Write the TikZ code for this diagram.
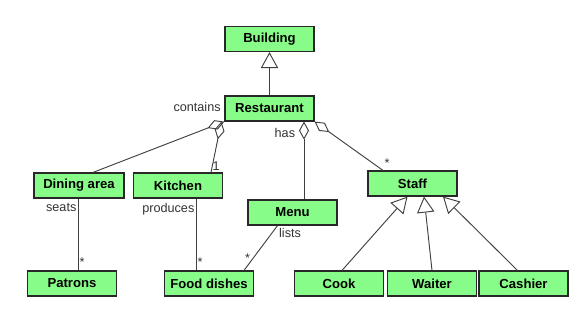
\documentclass[tikz,border=0pt]{standalone}
\usepackage{fontspec}
\setmainfont{Liberation Sans}
\definecolor{classgreen}{RGB}{136, 252, 136}
\definecolor{edgegray}{RGB}{40, 40, 40}
\usetikzlibrary{arrows.meta,calc,positioning}

\begin{document}
\begin{tikzpicture}[x=0.03cm, y=-0.03cm,
        every node/.style={font=\fontsize{10.8}{12}\selectfont},
        class/.style={draw=edgegray, fill=classgreen, line width=1pt, minimum width=2.67cm, minimum height=0.75cm, inner sep=0pt, font=\fontsize{11.2}{12}\selectfont\bfseries},
        lbl/.style={inner sep=1pt, text=black!80},
        link/.style={draw=black!75, line width=0.8pt},
        gen/.style={link, -{Triangle[open, length=0.48cm, width=0.52cm, line width=0.8pt]}},
        agg/.style={link, {Diamond[open, length=0.54cm, width=0.3cm, line width=0.8pt]}-}
      ]
        \useasboundingbox (0,0) rectangle (579,323);

        % classes
        \node[class] (building) at (269.5,39) {Building};
        \node[class] (restaurant) at (269.5,108.5) {Restaurant};
        \node[class, minimum width=2.7cm] (dining) at (79,185.5) {Dining area};
        \node[class] (kitchen) at (178,185.5) {Kitchen};
        \node[class] (menu) at (292.5,212.5) {Menu};
        \node[class] (staff) at (412.5,183.5) {Staff};
        \node[class] (patrons) at (72,283.5) {Patrons};
        \node[class] (food) at (209,283.5) {Food dishes};
        \node[class] (cook) at (339,283.5) {Cook};
        \node[class] (waiter) at (432,283.5) {Waiter};
        \node[class] (cashier) at (523.5,283.5) {Cashier};

        % inheritance
        \draw[gen] (restaurant.north) -- (building.south);
        \draw[gen] ($(cook.north)+(3,0)$) -- ($(staff.south)+(-5,0)$);
        \draw[gen] (waiter.north) -- ($(staff.south)+(11.5,0)$);
        \draw[gen] ($(cashier.north)+(-6,0)$) -- ($(staff.south)+(30.5,0)$);

        % aggregation
        \draw[agg] (restaurant.south west) -- ($(dining.north)+(14,0)$);
        \draw[agg] ($(restaurant.south west)+(-3,0)$) -- ($(kitchen.north)+(33,0)$)
          node[lbl, pos=1, anchor=south west] {1};
        \draw[agg] ($(restaurant.south)+(34.5,0)$) -- ($(menu.north)+(11.5,0)$);
        \draw[agg] (restaurant.south east) -- ($(staff.north)+(-29.5,0)$)
          node[lbl, pos=1, anchor=south west, yshift=1pt] {*};
        \node[lbl, left=2pt of restaurant.west, yshift=1pt] (contains) {contains};
        \node[lbl, anchor=east] (has) at ($(restaurant.south)+(27,11)$) {has};

        % associations
        \coordinate (seatsend) at ($(dining.south)+(-1,0)$);
        \coordinate (producesend) at ($(kitchen.south)+(18,0)$);
        \draw[link] (seatsend) -- (seatsend |- patrons.north)
          node[lbl, pos=0, anchor=north east, yshift=-3pt] {seats}
          node[lbl, pos=1, anchor=south west, yshift=2pt] {*};
        \draw[link] (producesend) -- (producesend |- food.north)
          node[lbl, pos=0, anchor=north east, yshift=-3pt] {produces}
          node[lbl, pos=1, anchor=south west, yshift=2pt] {*};
        \draw[link] ($(menu.south)+(-15,0)$) -- ($(food.north)+(35,0)$)
          node[lbl, pos=0, anchor=north west, yshift=-1pt] {lists}
          node[lbl, pos=1, anchor=south, xshift=3pt, yshift=5pt] {*};
      \end{tikzpicture}
\end{document}
